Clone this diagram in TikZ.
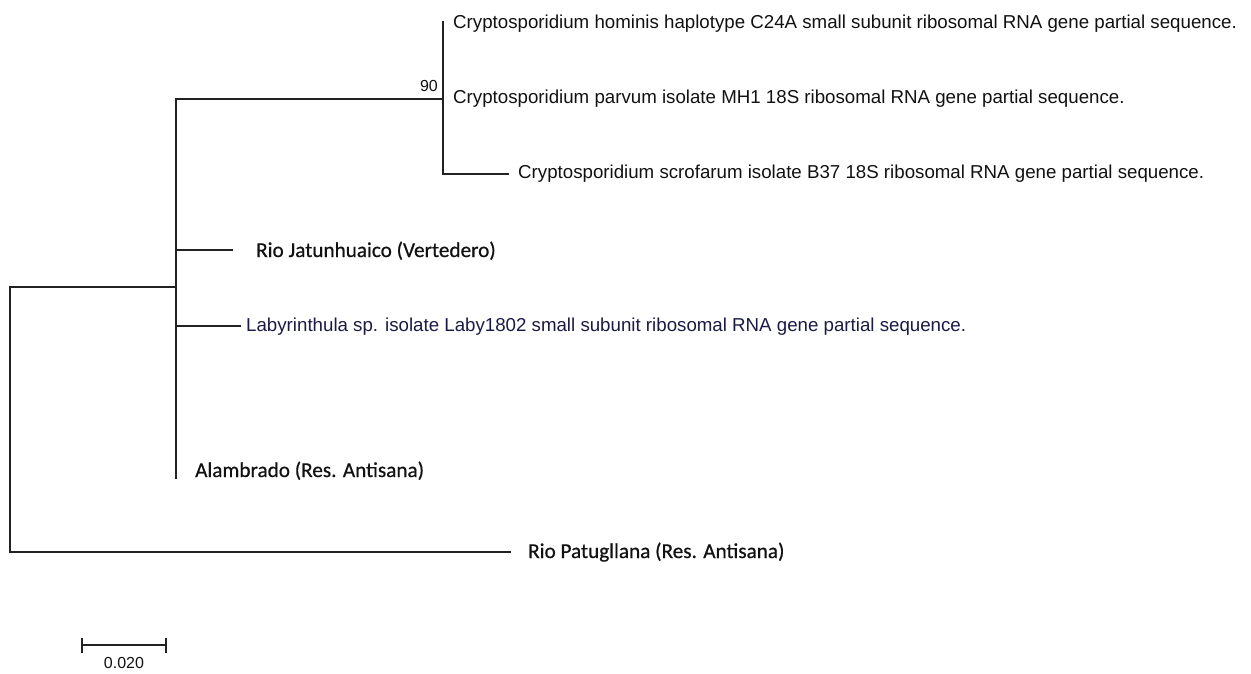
\documentclass[tikz,border=0pt]{standalone}
\usepackage{fontspec}
\setmainfont{Liberation Sans}
\newfontfamily\calfont[FakeBold=0.6]{Carlito}
\definecolor{branch}{HTML}{222222}
\definecolor{txt}{HTML}{111111}
\definecolor{navytxt}{HTML}{1A1A44}
\begin{document}
\begin{tikzpicture}[x=1pt,y=-1pt,
  br/.style={draw=branch,line width=1.4pt,line cap=rect},
  taxon/.style={anchor=base west,inner sep=0pt,text=txt,font=\fontsize{18.7}{20}\selectfont},
  sample/.style={anchor=base west,inner sep=0pt,text=txt,font=\calfont\fontsize{21.2}{24}\selectfont},
  support/.style={anchor=base east,inner sep=0pt,text=txt,font=\fontsize{16}{18}\selectfont},
  scalelbl/.style={anchor=base,inner sep=0pt,text=txt,font=\fontsize{16}{18}\selectfont}]
\useasboundingbox (0,0) rectangle (1251,673);
% internal nodes
\coordinate (root) at (10,287);
\coordinate (rootB) at (10,552);
\coordinate (nA) at (176,287);
\coordinate (nAtop) at (176,99);
\coordinate (nAbot) at (176,478);
\coordinate (nC) at (443,99);
\coordinate (nCtop) at (443,22);
\coordinate (nCbot) at (443,174);
% tips
\coordinate (tScro) at (508,174);
\coordinate (aJat) at (176,250);
\coordinate (tJat) at (232,250);
\coordinate (aLab) at (176,326);
\coordinate (tLab) at (240,326);
\coordinate (tPat) at (510,552);
% branches
\draw[br] (root) -- (rootB);
\draw[br] (root) -- (nA);
\draw[br] (nAtop) -- (nAbot);
\draw[br] (nAtop) -- (nC);
\draw[br] (nCtop) -- (nCbot);
\draw[br] (nCbot) -- (tScro);
\draw[br] (aJat) -- (tJat);
\draw[br] (aLab) -- (tLab);
\draw[br] (rootB) -- (tPat);
% labels
\node[taxon] (lHom) at (453,28) {Cryptosporidium hominis haplotype C24A small subunit ribosomal RNA gene partial sequence.};
\node[taxon] (lPar) at (453,103) {Cryptosporidium parvum isolate MH1 18S ribosomal RNA gene partial sequence.};
\node[taxon] (lScr) at (518,178) {Cryptosporidium scrofarum isolate B37 18S ribosomal RNA gene partial sequence.};
\node[sample] (lJat) at (256,257) {Rio Jatunhuaico (Vertedero)};
\node[taxon,text=navytxt] (lLab) at (246,331) {Labyrinthula sp. isolate Laby1802 small subunit ribosomal RNA gene partial sequence.};
\node[sample] (lAla) at (195,477) {Alambrado (Res. Antisana)};
\node[sample] (lPat) at (528,558) {Rio Patugllana (Res. Antisana)};
\node[support] (s90) at (438,91) {90};
% scale bar
\coordinate (sbL) at (82,645);
\coordinate (sbR) at (166,645);
\draw[br,line cap=butt] (sbL) -- (sbR);
\draw[br,line cap=butt] ([yshift=-8]sbL) -- ([yshift=7]sbL);
\draw[br,line cap=butt] ([yshift=-8]sbR) -- ([yshift=7]sbR);
\node[scalelbl] (sbT) at (124,668) {0.020};
\end{tikzpicture}
\end{document}
